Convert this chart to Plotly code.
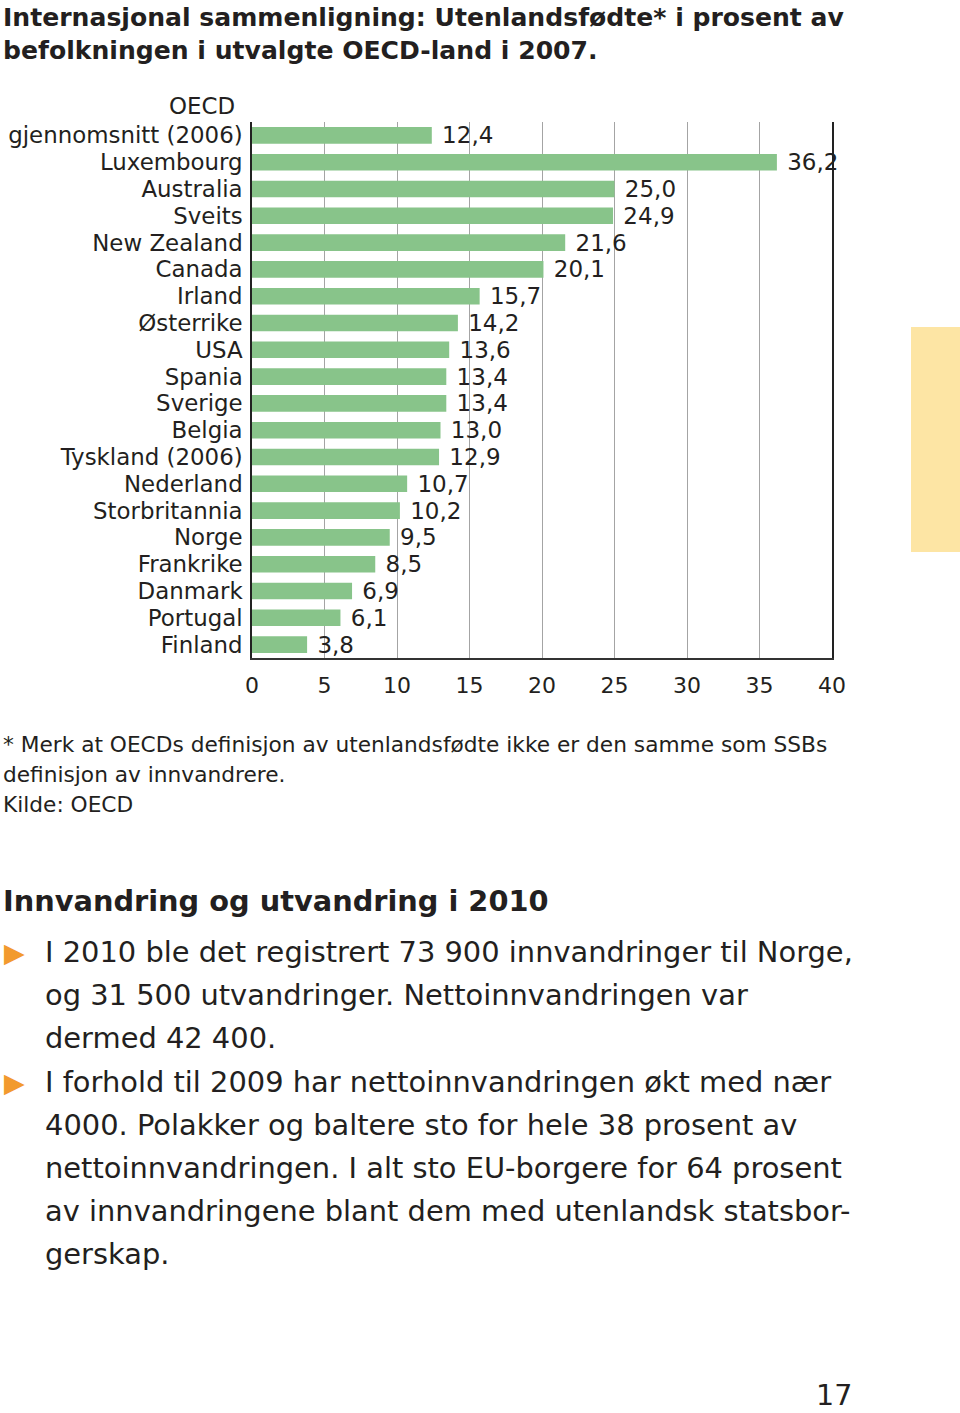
import plotly.graph_objects as go

W, H = 960, 1413

countries = ["OECD gjennomsnitt (2006)", "Luxembourg", "Australia", "Sveits", "New Zealand",
             "Canada", "Irland", "Østerrike", "USA", "Spania", "Sverige", "Belgia",
             "Tyskland (2006)", "Nederland", "Storbritannia", "Norge", "Frankrike",
             "Danmark", "Portugal", "Finland"]
tick_labels = ["gjennomsnitt (2006)", "Luxembourg", "Australia", "Sveits", "New Zealand",
               "Canada", "Irland", "Østerrike", "USA", "Spania", "Sverige", "Belgia",
               "Tyskland (2006)", "Nederland", "Storbritannia", "Norge", "Frankrike",
               "Danmark", "Portugal", "Finland"]
values = [12.4, 36.2, 25.0, 24.9, 21.6, 20.1, 15.7, 14.2, 13.6, 13.4, 13.4, 13.0,
          12.9, 10.7, 10.2, 9.5, 8.5, 6.9, 6.1, 3.8]
x_ticks = [0, 5, 10, 15, 20, 25, 30, 35, 40]

title_lines = ["Internasjonal sammenligning: Utenlandsfødte* i prosent av",
               "befolkningen i utvalgte OECD-land i 2007."]
note_lines = ["* Merk at OECDs definisjon av utenlandsfødte ikke er den samme som SSBs",
              "definisjon av innvandrere.",
              "Kilde: OECD"]
heading = "Innvandring og utvandring i 2010"
body_lines = ["I 2010 ble det registrert 73 900 innvandringer til Norge,",
              "og 31 500 utvandringer. Nettoinnvandringen var",
              "dermed 42 400.",
              "I forhold til 2009 har nettoinnvandringen økt med nær",
              "4000. Polakker og baltere sto for hele 38 prosent av",
              "nettoinnvandringen. I alt sto EU-borgere for 64 prosent",
              "av innvandringene blant dem med utenlandsk statsbor-",
              "gerskap."]
page_number = "17"

TXT = "#231f20"
FONT = "DejaVu Sans"
BAR = "#88c48a"


def label(v):
    return f"{v:.1f}".replace(".", ",")


fig = go.Figure(go.Bar(
    x=values, y=countries, orientation="h",
    marker=dict(color=BAR, line=dict(width=0)),
    width=0.62,
    text=[label(v) for v in values], textposition="outside",
    texttemplate="\u00a0%{text}",
    constraintext="none",
    textfont=dict(family=FONT, size=23, color=TXT),
    cliponaxis=False,
    hoverinfo="skip",
))

fig.update_layout(
    width=W, height=H, margin=dict(l=0, r=0, t=0, b=0, pad=0), autosize=False,
    paper_bgcolor="white", plot_bgcolor="white", showlegend=False,
    font=dict(family=FONT, color=TXT),
    xaxis=dict(domain=[252 / W, 832 / W], range=[0, 40], tickvals=x_ticks,
               ticktext=[str(t) for t in x_ticks], automargin=False,
               showgrid=True, gridcolor="#a4a4a4", gridwidth=1, zeroline=False,
               showline=True, linecolor="#333333", linewidth=1.5,
               tickfont=dict(family=FONT, size=22, color=TXT), ticks="", ticklen=0,
               ticklabelstandoff=7, fixedrange=True),
    yaxis=dict(domain=[1 - 658 / H, 1 - 122 / H], type="category",
               categoryorder="array", categoryarray=countries,
               range=[len(countries) - 0.5, -0.5], automargin=False,
               tickvals=countries, ticktext=tick_labels,
               showgrid=False, zeroline=False,
               showline=True, linecolor="#222222", linewidth=1.5, mirror=True,
               tickfont=dict(family=FONT, size=22.9, color=TXT), ticks="", ticklen=0,
               ticklabelstandoff=3, fixedrange=True),
    bargap=0.38,
)

ann = []


def add_text(text, x_px, y_px, size, bold=False, color=TXT, anchor="left"):
    ann.append(dict(text=f"<b>{text}</b>" if bold else text, xref="paper", yref="paper",
                    x=x_px / W, y=1 - y_px / H, xanchor=anchor, yanchor="middle",
                    showarrow=False, borderpad=0,
                    font=dict(family=FONT, size=size, color=color)))


for t, y in zip(title_lines, [17, 50]):
    add_text(t, 2, y, 25.1, bold=True)

add_text("OECD", 236, 106, 22.9, anchor="right")

for t, y in zip(note_lines, [745, 774, 804]):
    add_text(t, 2, y, 21.7)

add_text(heading, 2, 901, 28.8, bold=True)

body_y = [952, 995, 1038, 1082, 1125, 1168, 1211, 1254]
for t, y in zip(body_lines, body_y):
    add_text(t, 44, y, 28.9)

for y in [952, 1082]:
    add_text("▶", 3, y, 27, color="#f29a2e")

add_text(page_number, 853, 1395, 28.5, anchor="right")

fig.update_layout(annotations=ann)

fig.add_shape(type="rect", xref="paper", yref="paper",
              x0=911 / W, x1=1.0, y0=1 - 552 / H, y1=1 - 327 / H,
              fillcolor="#fde5a4", line=dict(width=0), layer="below")

fig.write_html("out.html", config={"displayModeBar": False, "responsive": False},
               post_script="document.body.style.margin='0';document.body.style.overflow='hidden';")
